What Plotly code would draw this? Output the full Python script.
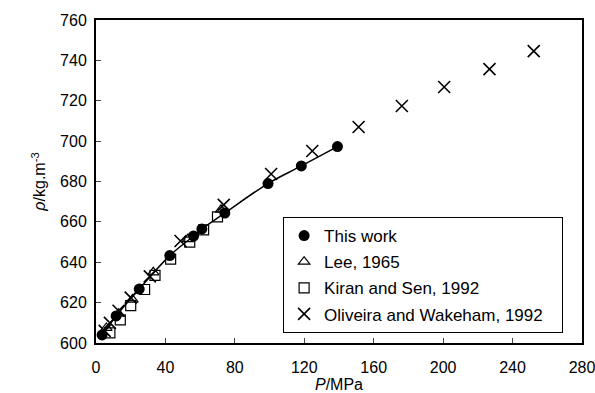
import plotly.graph_objects as go

# This work
tw_p = [3.5, 11.6, 24.9, 42.5, 56.2, 61.0, 74.2, 99.1, 118.3, 139.1]
tw_rho = [604.0, 613.4, 626.7, 643.3, 653.0, 656.5, 664.4, 679.0, 687.7, 697.3]
# Lee, 1965
lee_p = [6.0, 13.0, 21.0, 33.0, 53.0, 72.0]
lee_rho = [607.5, 614.5, 621.5, 635.0, 651.5, 666.0]
# Kiran and Sen, 1992
ks_p = [8.0, 14.0, 20.0, 28.0, 34.0, 43.0, 54.0, 62.0, 70.0]
ks_rho = [605.0, 611.5, 618.5, 626.5, 633.5, 641.5, 650.0, 656.0, 662.5]
# Oliveira and Wakeham, 1992
ow_p = [5.0, 8.0, 13.0, 20.0, 31.0, 48.7, 73.6, 100.9, 124.6, 151.3, 176.2, 200.6, 226.7, 252.2]
ow_rho = [606.0, 610.0, 616.0, 622.5, 633.0, 650.5, 668.4, 683.7, 695.1, 707.0, 717.4, 726.8, 735.7, 744.6]

x_ticks = [0, 40, 80, 120, 160, 200, 240, 280]
y_ticks = [600, 620, 640, 660, 680, 700, 720, 740, 760]

pad = "\u00a0" * 3

fig = go.Figure()
fig.add_trace(go.Scatter(x=tw_p, y=tw_rho, mode="lines", line=dict(color="black", width=1.5, shape="spline"),
                         showlegend=False, hoverinfo="skip"))
fig.add_trace(go.Scatter(x=tw_p, y=tw_rho, mode="markers", name="This work", legendgroup="a",
                         marker=dict(symbol="circle", size=11, color="black")))
fig.add_trace(go.Scatter(x=lee_p, y=lee_rho, mode="markers", name="Lee, 1965", legendgroup="b",
                         marker=dict(symbol="triangle-up-open", size=10, color="black", line=dict(width=1.2))))
fig.add_trace(go.Scatter(x=ks_p, y=ks_rho, mode="markers", name="Kiran and Sen, 1992", legendgroup="c",
                         marker=dict(symbol="square-open", size=10, color="black", line=dict(width=1.2))))
fig.add_trace(go.Scatter(x=ow_p, y=ow_rho, mode="markers", name="Oliveira and Wakeham, 1992" + pad, legendgroup="d",
                         marker=dict(symbol="x-thin-open", size=12, color="black", line=dict(width=1.6, color="black"))))

fig.update_layout(
    width=595, height=393,
    margin=dict(l=96, r=13, t=20, b=50, autoexpand=False),
    paper_bgcolor="white", plot_bgcolor="white",
    font=dict(family="Liberation Sans, Arial", size=16, color="black"),
    legend=dict(x=0.385, y=0.39, xanchor="left", yanchor="top",
                bordercolor="black", borderwidth=1, bgcolor="white",
                font=dict(size=17), tracegroupgap=1, itemwidth=30),
    xaxis=dict(range=[0, 280], tickvals=x_ticks, ticks="inside", ticklen=5, tickwidth=1,
               showline=True, linecolor="black", linewidth=2, mirror=True, showgrid=False, zeroline=False,
               automargin=False, ticklabeloverflow="allow", ticklabelstandoff=9,
               title=dict(text="<i>P</i>/MPa", standoff=0, font=dict(size=16))),
    yaxis=dict(range=[600, 760], tickvals=y_ticks, ticks="inside", ticklen=5, tickwidth=1,
               showline=True, linecolor="black", linewidth=2, mirror=True, showgrid=False, zeroline=False,
               automargin=False, ticklabeloverflow="allow", ticklabelstandoff=4,
               title=dict(text="<i>ρ</i>/kg.m<sup>-3</sup>", standoff=10, font=dict(size=16))),
)
fig.write_html("out.html")
